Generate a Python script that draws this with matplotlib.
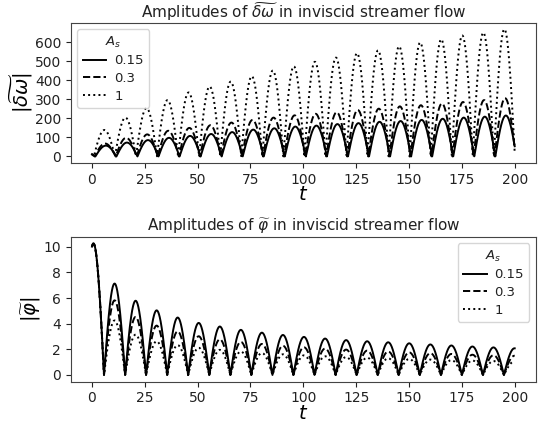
import numpy as np
import matplotlib
matplotlib.use("Agg")
import matplotlib.pyplot as plt

# ---- data ----
amp_labels = ["0.15", "0.3", "1"]
styles = ["-", "--", ":"]

# top panel: hump boundaries (zeros) of |delta omega| for A_s = 1, and per-series shift
dw_zeros = [-9.06, 0.9, 10.86, 20.82, 30.78, 40.74, 50.7, 60.66, 70.62, 80.58, 90.54,
            100.5, 110.46, 120.42, 130.38, 140.34, 150.3, 160.26, 170.22, 180.18,
            190.14, 200.1]
dw_shift = [0.7, 0.35, 0.0]
# hump peak heights (first one is the hump partly before t=0)
dw_peaks_015 = [25, 57, 73, 86, 98, 108, 118, 128, 141, 148, 157, 162, 170, 175, 182,
                186, 192, 198, 204, 209, 215]
dw_peaks_03 = [32, 68, 98, 116, 135, 150, 164, 178, 192, 204, 216, 224, 232, 244, 251,
               263, 269, 278, 286, 296, 306]
dw_peaks_1 = [43, 139, 204, 254, 296, 336, 367, 393, 421, 451, 473, 497, 519, 542, 557,
              578, 598, 615, 635, 650, 668]

# bottom panel: zeros of |phi| and hump peaks
phi_zeros = [-4.3, 5.7, 15.7, 25.6, 35.6, 45.5, 55.5, 65.5, 75.4, 85.4, 95.3, 105.3,
             115.3, 125.2, 135.2, 145.1, 155.1, 165.1, 175.0, 185.0, 194.9, 204.9]
phi_peaks_015 = [10.26, 7.13, 5.79, 5.04, 4.48, 4.06, 3.78, 3.52, 3.30, 3.12, 2.97, 2.84,
                 2.72, 2.63, 2.55, 2.47, 2.38, 2.30, 2.22, 2.15, 2.08]
phi_peaks_03 = [10.26, 5.82, 4.53, 3.85, 3.40, 3.02, 2.78, 2.58, 2.42, 2.28, 2.16, 2.06,
                1.98, 1.90, 1.83, 1.76, 1.70, 1.64, 1.58, 1.54, 1.50]
phi_peaks_1 = [10.26, 4.25, 3.15, 2.63, 2.33, 2.12, 1.96, 1.83, 1.71, 1.61, 1.53, 1.46,
               1.40, 1.35, 1.30, 1.25, 1.20, 1.16, 1.13, 1.09, 1.06]

x_ticks = [0, 25, 50, 75, 100, 125, 150, 175, 200]

t = np.linspace(0, 200, 6001)


def humps(zeros, peaks, shift=0.0):
    z = np.asarray(zeros) + shift
    y = np.zeros_like(t)
    for i, p in enumerate(peaks):
        a, b = z[i], z[i + 1]
        m = (t >= a) & (t <= b)
        y[m] = p * np.abs(np.sin(np.pi * (t[m] - a) / (b - a)))
    return y


plt.rcParams["text.color"] = "#222222"
plt.rcParams["xtick.color"] = "#222222"
plt.rcParams["ytick.color"] = "#222222"

fig = plt.figure(figsize=(5.49, 4.23), dpi=100)
ax1 = fig.add_axes([0.129, 0.615, 0.847, 0.331])
ax2 = fig.add_axes([0.129, 0.098, 0.847, 0.342])

for pk, sh, ls, lab in zip([dw_peaks_015, dw_peaks_03, dw_peaks_1], dw_shift, styles, amp_labels):
    ax1.plot(t, humps(dw_zeros, pk, sh), color="black", linestyle=ls, lw=1.4, label=lab)
for pk, ls, lab in zip([phi_peaks_015, phi_peaks_03, phi_peaks_1], styles, amp_labels):
    ax2.plot(t, humps(phi_zeros, pk), color="black", linestyle=ls, lw=1.4, label=lab)

leg_kw = dict(title=r"$A_s$", fontsize=9.5, title_fontsize=9.5, handlelength=1.8,
              handletextpad=0.6, labelspacing=0.35, borderpad=0.4)

ax1.set_title(r"Amplitudes of $\widetilde{\delta\omega}$ in inviscid streamer flow",
              fontsize=11, pad=1)
ax1.set_xlabel(r"$t$", fontsize=14, labelpad=-1)
ax1.set_ylabel(r"$|\widetilde{\delta\omega}|$", fontsize=14, labelpad=0)
ax1.set_xticks(x_ticks)
ax1.set_yticks([0, 100, 200, 300, 400, 500, 600])
ax1.legend(loc="upper left", **leg_kw)

ax2.set_title(r"Amplitudes of $\widetilde{\varphi}$ in inviscid streamer flow",
              fontsize=11, pad=4)
ax2.set_xlabel(r"$t$", fontsize=14, labelpad=-1)
ax2.set_ylabel(r"$|\widetilde{\varphi}|$", fontsize=14, labelpad=0)
ax2.set_xticks(x_ticks)
ax2.set_yticks([0, 2, 4, 6, 8, 10])
ax2.legend(loc="upper right", **leg_kw)

for ax in (ax1, ax2):
    for s in ax.spines.values():
        s.set_color("#444444")

fig.savefig("out.png", dpi=100)
